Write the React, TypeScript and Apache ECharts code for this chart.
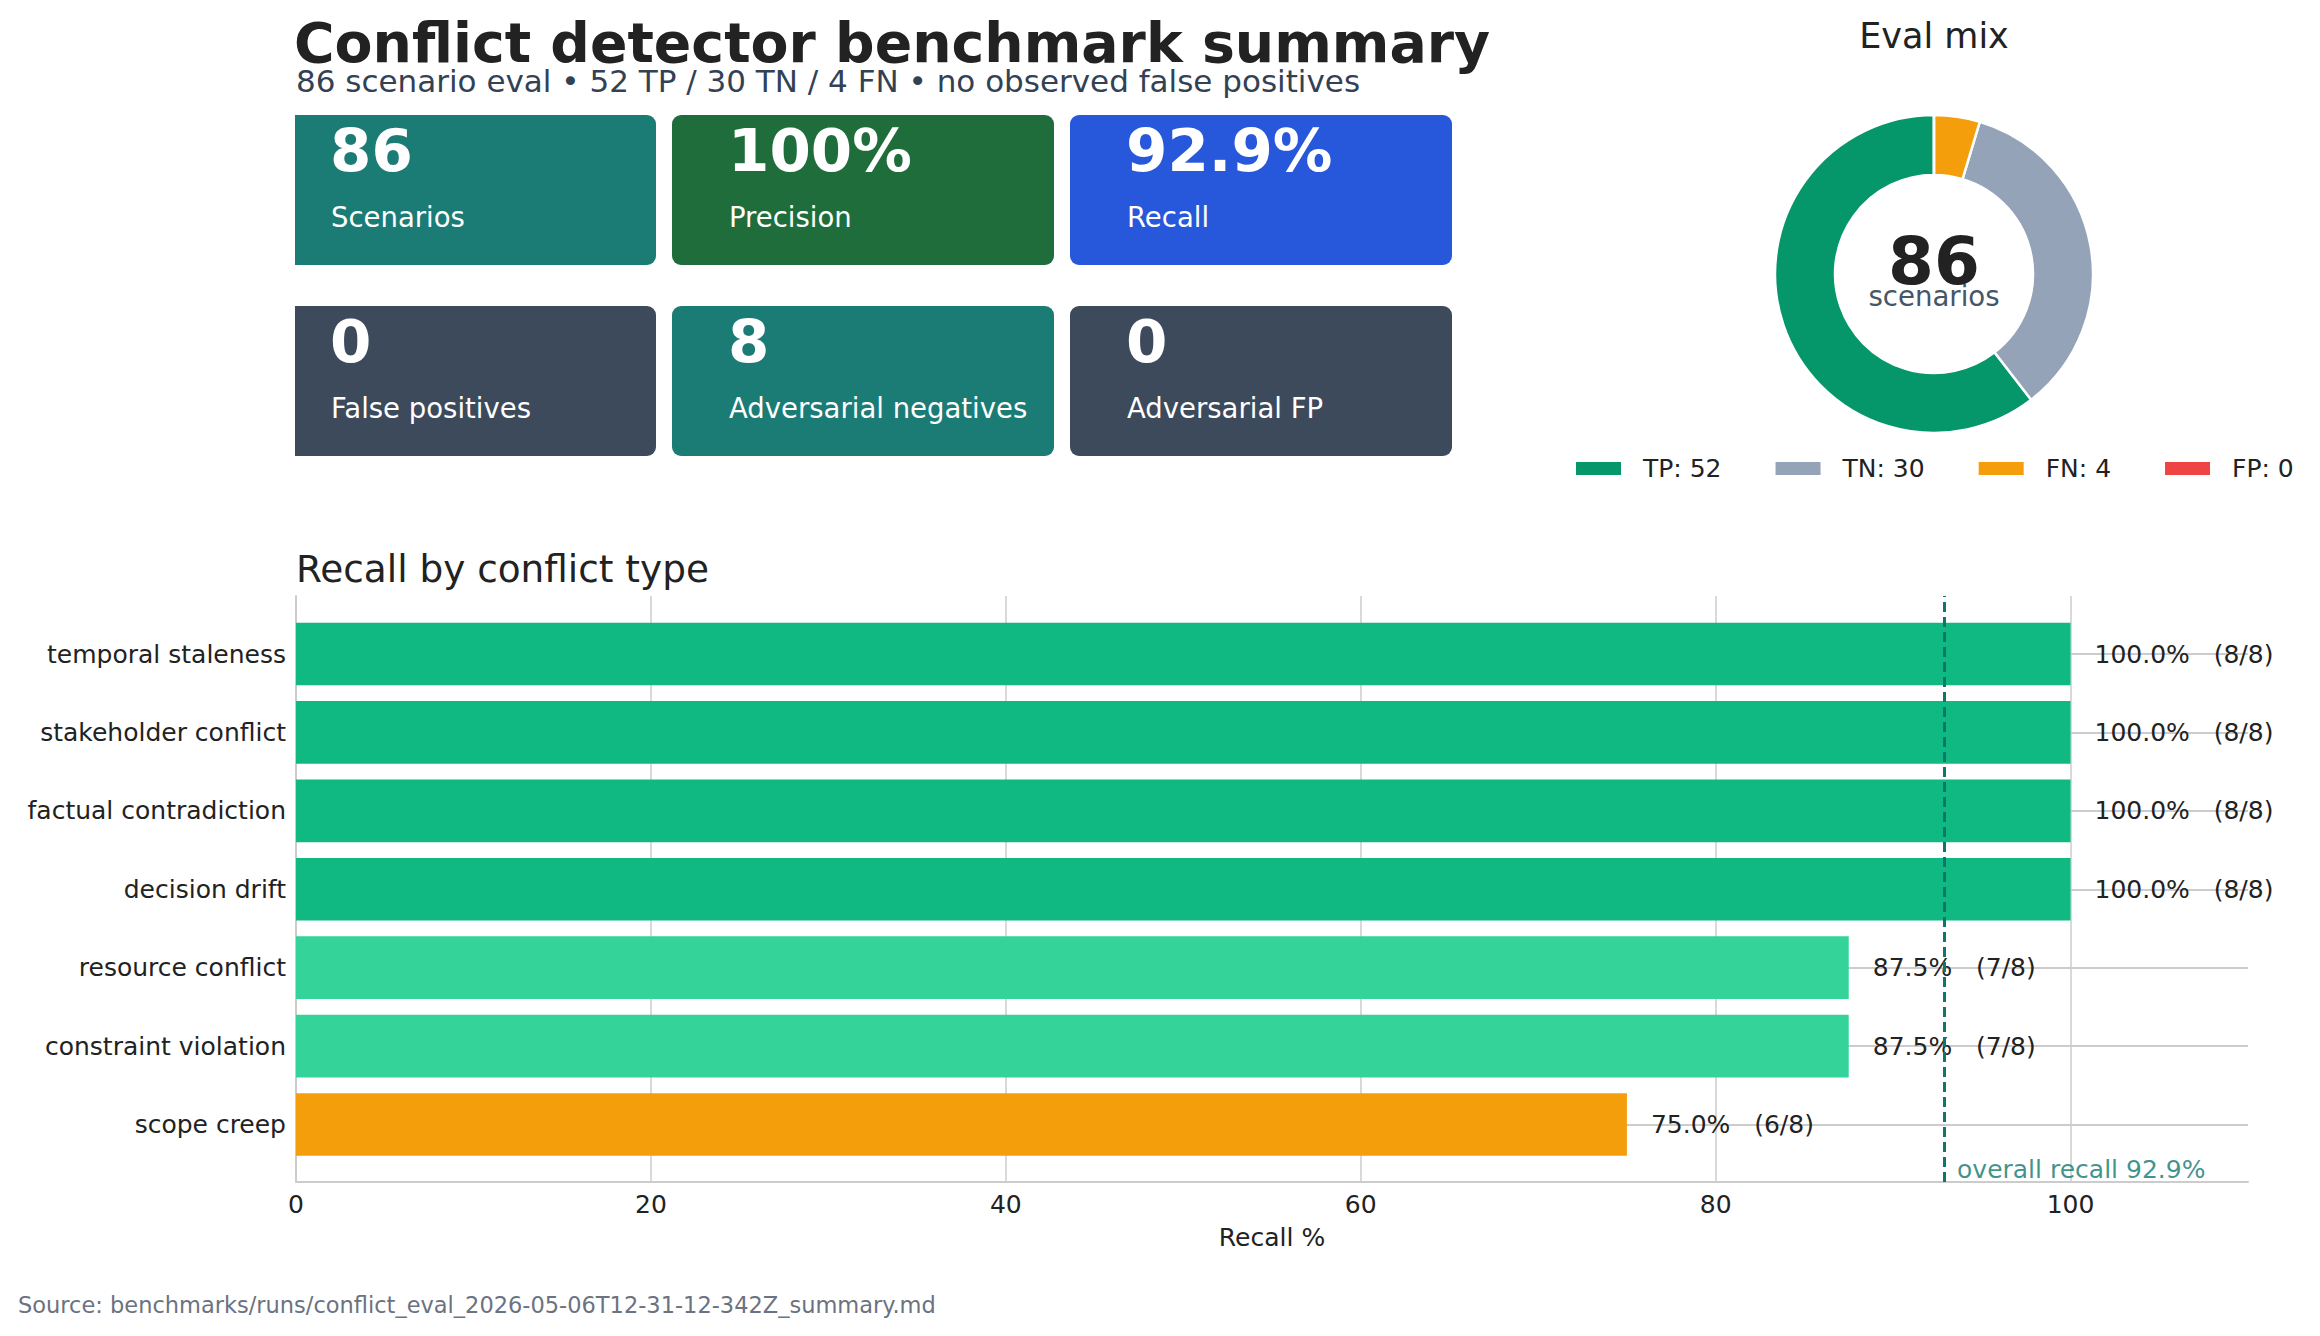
import React, { useEffect, useRef } from 'react';
import * as echarts from 'echarts';

const FONT = "'DejaVu Sans', 'Noto Sans', sans-serif";

// ---------- data ----------
const titleText = 'Conflict detector benchmark summary';
const subtitleText = '86 scenario eval • 52 TP / 30 TN / 4 FN • no observed false positives';

const kpiValues = ['86', '100%', '92.9%', '0', '8', '0'];
const kpiLabels = ['Scenarios', 'Precision', 'Recall', 'False positives', 'Adversarial negatives', 'Adversarial FP'];

const mixTitle = 'Eval mix';
const mixLabels = ['TP', 'TN', 'FN', 'FP'];
const mixValues = [52, 30, 4, 0];
const totalScenarios = 86;

const barTitle = 'Recall by conflict type';
const conflictTypes = [
  'temporal staleness',
  'stakeholder conflict',
  'factual contradiction',
  'decision drift',
  'resource conflict',
  'constraint violation',
  'scope creep',
];
const recallPct = [100, 100, 100, 100, 87.5, 87.5, 75];
const hits = [8, 8, 8, 8, 7, 7, 6];
const totals = [8, 8, 8, 8, 8, 8, 8];
const overallRecall = 92.9;
const xTicks = [0, 20, 40, 60, 80, 100];
const xMax = 110;
const xAxisName = 'Recall %';
const sourceText = 'Source: benchmarks/runs/conflict_eval_2026-05-06T12-31-12-342Z_summary.md';

// ---------- styles / layout ----------
const CARD_COLORS = ['#1b7b75', '#206d3c', '#2757da', '#3d4a5c', '#1b7b75', '#3d4a5c'];
const CARD_LEFTS = [274, 672, 1070];
const CARD_TOPS = [115, 306];
const CARD_W = 382;
const CARD_H = 150;
const CLIP_LEFT = 295;
const MIX_COLORS = ['#059669', '#94a3b8', '#f59e0b', '#ef4444'];
const GRID_COLOR = '#cccccc';
const TEXT_DARK = '#222222';

function barColor(v: number) {
  if (v >= 100) return '#10b981';
  if (v >= 85) return '#34d399';
  return '#f59e0b';
}

function txt(text: string, x: number, y: number, font: string, fill: string, align = 'left') {
  return {
    type: 'text',
    x,
    y,
    silent: true,
    style: {
      text,
      fill,
      font,
      textAlign: align,
      textVerticalAlign: 'middle',
      align,
      verticalAlign: 'middle',
    },
  };
}

function buildOption() {
  const cards: any[] = [];
  kpiValues.forEach((v, i) => {
    const col = i % 3;
    const row = Math.floor(i / 3);
    const left = CARD_LEFTS[col];
    const top = CARD_TOPS[row];
    const clipX = Math.max(left, CLIP_LEFT);
    cards.push({
      type: 'rect',
      silent: true,
      shape: {
        x: clipX,
        y: top,
        width: left + CARD_W - clipX,
        height: CARD_H,
        r: clipX > left ? [0, 9, 9, 0] : 9,
      },
      style: { fill: CARD_COLORS[i] },
    });
    cards.push(txt(v, left + 56, top + 35, `bold 59.5px ${FONT}`, '#ffffff'));
    cards.push(txt(kpiLabels[i], left + 57, top + 102, `27.5px ${FONT}`, '#ffffff'));
  });

  const graphics = [
    txt(titleText, 294, 43, `bold 55.3px ${FONT}`, TEXT_DARK),
    txt(subtitleText, 296, 81, `31px ${FONT}`, '#334155'),
    ...cards,
    txt(mixTitle, 1934, 36, `35px ${FONT}`, TEXT_DARK, 'center'),
    txt(String(totalScenarios), 1934, 261, `bold 66px ${FONT}`, TEXT_DARK, 'center'),
    txt('scenarios', 1934, 296, `27.6px ${FONT}`, '#475569', 'center'),
    txt(barTitle, 296, 569, `37.4px ${FONT}`, TEXT_DARK),
    txt(sourceText, 18, 1305, `22.5px ${FONT}`, '#6b7280'),
  ];

  const labelFont = { color: TEXT_DARK, fontSize: 25, fontFamily: FONT };

  return {
    animation: false,
    backgroundColor: '#ffffff',
    textStyle: { fontFamily: FONT },
    graphic: { elements: graphics },
    legend: {
      left: 1569,
      top: 451,
      itemWidth: 47,
      itemHeight: 15,
      itemGap: 52,
      icon: 'rect',
      selectedMode: false,
      textStyle: { ...labelFont, padding: [0, 0, 0, 16] },
      data: mixLabels.map((l, i) => `${l}: ${mixValues[i]}`),
    },
    grid: [
      { left: 296, right: 72, top: 596, bottom: 154 },
      { left: 296, right: 72, top: 614.8, bottom: 172.3 },
    ],
    xAxis: [
      {
        gridIndex: 0,
        type: 'value',
        min: 0,
        max: xMax,
        interval: 20,
        axisLine: { show: true, lineStyle: { color: GRID_COLOR, width: 2 } },
        axisTick: { show: false },
        axisLabel: {
          ...labelFont,
          margin: 10,
          formatter: (v: number) => (xTicks.includes(v) ? String(v) : ''),
        },
        splitLine: { show: false },
        name: xAxisName,
        nameLocation: 'middle',
        nameGap: 43,
        nameTextStyle: labelFont,
      },
      { gridIndex: 1, type: 'value', min: 0, max: xMax, show: false },
    ],
    yAxis: [
      {
        gridIndex: 0,
        type: 'value',
        min: 0,
        max: 1,
        axisLine: { show: true, lineStyle: { color: GRID_COLOR, width: 2 } },
        axisTick: { show: false },
        axisLabel: { show: false },
        splitLine: { show: false },
      },
      {
        gridIndex: 1,
        type: 'category',
        data: conflictTypes,
        inverse: true,
        axisLine: { show: false },
        axisTick: { show: false },
        axisLabel: { ...labelFont, margin: 10 },
        splitLine: { show: false },
      },
    ],
    series: [
      {
        type: 'scatter',
        xAxisIndex: 0,
        yAxisIndex: 0,
        silent: true,
        z: 1,
        data: [],
        markLine: {
          silent: true,
          z: 1,
          symbol: 'none',
          label: { show: false },
          lineStyle: { color: GRID_COLOR, width: 1.5, type: 'solid' },
          data: xTicks.map((v) => ({ xAxis: v })),
        },
      },
      {
        type: 'bar',
        xAxisIndex: 1,
        yAxisIndex: 1,
        z: 2,
        silent: true,
        barWidth: '80%',
        data: recallPct.map((v) => ({ value: v, itemStyle: { color: barColor(v) } })),
        label: {
          show: true,
          position: 'right',
          distance: 24,
          ...labelFont,
          formatter: (p: any) =>
            `${recallPct[p.dataIndex].toFixed(1)}%   (${hits[p.dataIndex]}/${totals[p.dataIndex]})`,
        },
        markLine: {
          silent: true,
          z: 1,
          symbol: 'none',
          label: { show: false },
          lineStyle: { color: GRID_COLOR, width: 2, type: 'solid' },
          data: conflictTypes.map((c) => ({ yAxis: c })),
        },
      },
      {
        type: 'scatter',
        xAxisIndex: 0,
        yAxisIndex: 0,
        silent: true,
        z: 6,
        symbolSize: 1,
        itemStyle: { color: 'rgba(0,0,0,0)' },
        data: [[overallRecall, 0.022]],
        label: {
          show: true,
          position: 'right',
          distance: 12,
          color: '#0f766e',
          fontSize: 25,
          fontFamily: FONT,
          formatter: `overall recall ${overallRecall}%`,
        },
        markLine: {
          silent: true,
          z: 6,
          symbol: 'none',
          label: { show: false },
          lineStyle: { color: '#0f766e', width: 3, type: [10, 5] },
          data: [{ xAxis: overallRecall }],
        },
      },
      {
        type: 'pie',
        center: [1934, 274],
        radius: [99, 159],
        startAngle: 90,
        clockwise: false,
        silent: true,
        label: { show: false },
        labelLine: { show: false },
        itemStyle: { borderColor: '#ffffff', borderWidth: 2.5 },
        data: mixLabels.map((l, i) => ({
          name: `${l}: ${mixValues[i]}`,
          value: mixValues[i],
          itemStyle: { color: MIX_COLORS[i] },
        })),
      },
    ],
  };
}

export default function App() {
  const ref = useRef<HTMLDivElement>(null);
  useEffect(() => {
    if (!ref.current) return;
    const chart = echarts.init(ref.current, undefined, { renderer: 'svg' });
    chart.setOption(buildOption() as any);
    return () => chart.dispose();
  }, []);
  return (
    <div
      ref={ref}
      style={{ position: 'fixed', left: 0, top: 0, width: 2320, height: 1336, background: '#ffffff' }}
    />
  );
}
